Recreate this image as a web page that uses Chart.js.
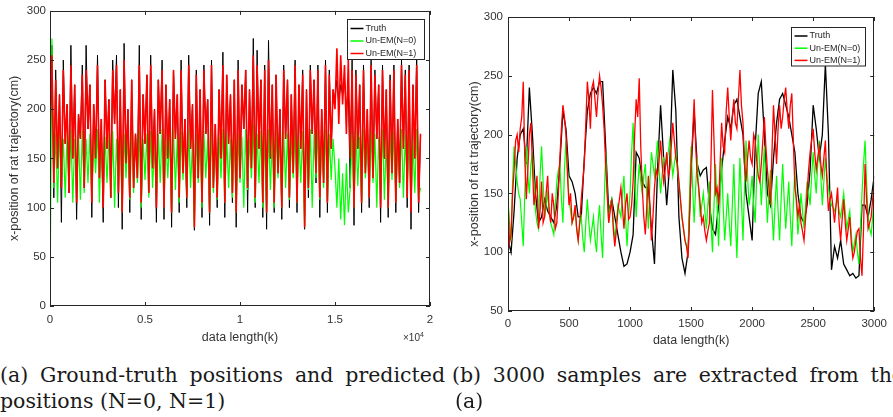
<!DOCTYPE html>
<html>
<head>
<meta charset="utf-8">
<script src="https://cdn.jsdelivr.net/npm/chart.js@4.4.0/dist/chart.umd.min.js"></script>
<style>
html, body { margin: 0; padding: 0; background: #fff; }
body { width: 893px; height: 417px; overflow: hidden; position: relative; }
canvas { position: absolute; top: 0; }
.cap { position: absolute; font-family: "DejaVu Serif", serif; font-size: 20.5px; line-height: 25px; color: #1a1a1a; white-space: nowrap; }
.just { text-align: justify; text-align-last: justify; white-space: normal; }
.exp { position: absolute; left: 403px; top: 331px; font: 10px "Liberation Sans", Arial, sans-serif; color: #333; }
.exp sup { font-size: 7px; }
</style>
</head>
<body>
<canvas id="leftChart" width="445" height="347" style="left:0"></canvas>
<canvas id="rightChart" width="443" height="350" style="left:450px"></canvas>
<div class="exp">&times;10<sup>4</sup></div>
<div class="cap just" style="left:0;top:363px;width:445px">(a) Ground-truth positions and predicted</div>
<div class="cap" style="left:0;top:389px">positions (N=0, N=1)</div>
<div class="cap just" style="left:452px;top:363px;width:452px">(b) 3000 samples are extracted from the</div>
<div class="cap" style="left:455px;top:389px">(a)</div>
<script>
// series names (legend order)
const seriesNames = ['Truth', 'Un-EM(N=0)', 'Un-EM(N=1)'];
const seriesColors = ['#000000', '#00ff00', '#ff0000'];

// (a) full recording, one value every 100 samples
const leftStep = 100;
const leftXTickLabels = ['0', '0.5', '1', '1.5', '2'];
const leftTruth = [
  150, 265, 110, 240, 140, 215, 85, 250, 165, 205,
  115, 265, 150, 225, 88, 195, 170, 245, 120, 265,
  180, 225, 90, 205, 150, 255, 130, 190, 85, 230,
  160, 210, 110, 250, 185, 255, 100, 220, 78, 267,
  145, 200, 95, 230, 120, 175, 130, 265, 88, 215,
  165, 235, 115, 255, 140, 200, 85, 230, 175, 250,
  88, 225, 150, 210, 80, 240, 170, 215, 95, 250,
  135, 190, 100, 255, 160, 205, 77, 240, 130, 220,
  90, 245, 175, 210, 82, 250, 120, 185, 100, 220,
  150, 258, 90, 235, 165, 215, 105, 230, 80, 250,
  130, 225, 180, 240, 95, 220, 140, 272, 100, 260,
  160, 230, 90, 245, 78, 270, 150, 225, 95, 235,
  135, 200, 88, 245, 170, 230, 100, 215, 135, 250,
  95, 225, 160, 240, 78, 220, 110, 245, 175, 230,
  125, 245, 90, 200, 125, 250, 95, 240, 160, 220,
  210, 230, 205, 225, 215, 230, 200, 220, 120, 250,
  82, 240, 160, 225, 95, 245, 135, 200, 100, 250,
  130, 240, 170, 225, 85, 245, 150, 220, 90, 235,
  135, 245, 95, 190, 125, 250, 160, 240, 100, 245,
  78, 225, 150, 255, 95, 175
];
const leftUnEM0 = [
  0, 272, 120, 175, 105, 180, 125, 170, 110, 175,
  120, 180, 105, 170, 130, 175, 108, 178, 115, 170,
  125, 175, 110, 172, 135, 180, 105, 175, 118, 172,
  125, 175, 110, 178, 100, 170, 120, 180, 95, 175,
  130, 172, 108, 178, 115, 175, 125, 180, 100, 170,
  128, 175, 110, 178, 120, 165, 105, 175, 125, 180,
  100, 170, 130, 175, 95, 180, 118, 172, 105, 178,
  128, 175, 110, 180, 120, 168, 80, 175, 125, 172,
  100, 178, 130, 170, 95, 180, 115, 175, 108, 172,
  130, 180, 105, 175, 120, 170, 110, 178, 95, 175,
  125, 172, 100, 180, 118, 170, 130, 185, 105, 175,
  125, 178, 100, 175, 95, 180, 118, 172, 100, 178,
  130, 170, 100, 178, 120, 175, 108, 170, 130, 180,
  105, 172, 125, 178, 80, 170, 118, 180, 100, 175,
  130, 178, 108, 172, 120, 180, 105, 175, 128, 170,
  140, 100, 150, 88, 135, 82, 145, 95, 120, 175,
  100, 178, 122, 172, 105, 180, 130, 175, 110, 178,
  125, 175, 100, 172, 118, 180, 108, 170, 100, 175,
  128, 178, 105, 172, 120, 180, 110, 175, 125, 178,
  100, 172, 115, 180, 110, 120
];
const leftUnEM1 = [
  160, 255, 125, 230, 140, 215, 120, 240, 165, 205,
  115, 245, 150, 225, 105, 195, 170, 235, 120, 240,
  180, 225, 105, 205, 150, 245, 130, 190, 100, 230,
  160, 210, 110, 240, 185, 245, 115, 220, 95, 250,
  145, 200, 110, 230, 120, 175, 130, 245, 105, 215,
  165, 235, 115, 245, 140, 200, 100, 230, 175, 240,
  100, 225, 150, 210, 95, 240, 170, 215, 110, 240,
  135, 190, 110, 245, 160, 205, 80, 235, 130, 220,
  105, 240, 175, 210, 95, 245, 120, 185, 110, 220,
  150, 245, 105, 235, 165, 215, 115, 230, 95, 240,
  130, 225, 180, 240, 120, 220, 140, 255, 110, 245,
  160, 230, 105, 240, 95, 250, 150, 225, 105, 235,
  135, 200, 100, 240, 170, 230, 110, 215, 135, 245,
  105, 225, 160, 235, 80, 220, 120, 240, 175, 230,
  135, 240, 110, 200, 125, 245, 105, 235, 160, 220,
  200, 262, 185, 255, 205, 245, 175, 250, 150, 240,
  100, 235, 160, 225, 105, 240, 135, 200, 110, 245,
  130, 235, 170, 225, 100, 240, 150, 220, 100, 230,
  135, 240, 105, 190, 125, 245, 160, 235, 110, 240,
  95, 225, 150, 245, 105, 175
];

// (b) first 3000 samples: truth every 25 samples, estimates every 12.5
const rightTruthStep = 25;
const rightEstStep = 12.5;
const rightTruth = [
  110, 100, 135, 180, 200, 205, 175, 240, 200, 150,
  125, 130, 145, 135, 130, 125, 140, 175, 220, 205,
  165, 160, 150, 130, 130, 180, 220, 235, 240, 235,
  245, 245, 190, 135, 145, 130, 115, 100, 88, 90,
  100, 115, 185, 180, 160, 155, 155, 120, 90, 170,
  225, 180, 140, 175, 255, 220, 130, 95, 82, 100,
  170, 220, 175, 165, 170, 172, 140, 120, 115, 140,
  170, 195, 215, 205, 225, 230, 215, 200, 150, 130,
  110, 190, 235, 245, 200, 150, 140, 180, 210, 230,
  235, 225, 215, 200, 185, 150, 130, 125, 140, 170,
  225, 205, 180, 200, 260, 200, 85, 105, 95, 110,
  90, 85, 80, 82, 78, 80, 140, 140, 130, 145,
  165
];
const rightUnEM0 = [
  145, 125, 110, 160, 190, 175, 160, 150, 145, 125, 105, 150, 190, 165, 150, 175, 185, 160, 135, 125,
  120, 165, 190, 160, 130, 140, 150, 135, 125, 120, 115, 140, 160, 170, 175, 145, 125, 170, 195, 170,
  145, 135, 125, 130, 135, 120, 110, 125, 130, 112, 100, 125, 145, 125, 110, 120, 130, 112, 100, 125,
  140, 115, 95, 140, 185, 150, 125, 140, 145, 125, 110, 125, 140, 135, 130, 150, 165, 130, 105, 130,
  150, 185, 210, 165, 130, 155, 175, 160, 150, 165, 175, 145, 120, 160, 185, 175, 165, 180, 195, 170,
  150, 165, 180, 178, 175, 185, 195, 180, 165, 175, 185, 170, 160, 145, 130, 120, 110, 105, 100, 150,
  190, 155, 125, 155, 180, 150, 130, 140, 150, 135, 120, 140, 160, 125, 100, 140, 175, 140, 105, 145,
  180, 140, 110, 130, 150, 125, 105, 140, 175, 130, 95, 140, 180, 145, 110, 155, 195, 165, 140, 150,
  165, 140, 125, 165, 200, 170, 140, 165, 190, 155, 125, 150, 170, 135, 110, 140, 165, 135, 110, 145,
  175, 145, 120, 140, 160, 130, 105, 140, 170, 140, 115, 130, 150, 135, 120, 140, 160, 150, 140, 165,
  185, 165, 150, 175, 195, 165, 140, 160, 180, 165, 155, 145, 140, 138, 135, 140, 145, 135, 130, 140,
  150, 135, 120, 128, 135, 115, 100, 108, 115, 100, 90, 120, 150, 175, 195, 160, 130, 120, 115, 130,
  145
];
const rightUnEM1 = [
  145, 108, 115, 150, 170, 195, 200, 185, 205, 215, 245, 180, 145, 170, 200, 210, 175, 140, 150, 165,
  120, 135, 160, 125, 130, 150, 165, 135, 125, 150, 140, 120, 125, 150, 180, 205, 225, 215, 200, 165,
  140, 150, 125, 130, 140, 120, 110, 125, 145, 160, 175, 210, 245, 230, 205, 240, 245, 230, 215, 235,
  250, 240, 225, 205, 175, 150, 125, 135, 145, 120, 105, 118, 135, 145, 155, 138, 120, 140, 150, 128,
  130, 140, 160, 200, 230, 215, 248, 190, 155, 130, 115, 140, 165, 140, 110, 130, 155, 170, 165, 178,
  195, 175, 160, 170, 185, 165, 170, 190, 210, 195, 180, 175, 160, 145, 130, 120, 110, 105, 95, 130,
  175, 200, 230, 190, 165, 155, 140, 125, 130, 118, 110, 118, 125, 175, 238, 195, 150, 155, 140, 175,
  210, 190, 185, 220, 240, 215, 195, 215, 230, 210, 205, 230, 255, 225, 210, 175, 160, 180, 195, 180,
  175, 200, 195, 178, 165, 160, 175, 195, 215, 190, 170, 155, 140, 185, 225, 200, 175, 205, 225, 205,
  215, 230, 240, 220, 205, 225, 235, 195, 155, 145, 130, 140, 125, 118, 110, 128, 150, 170, 185, 195,
  205, 185, 170, 180, 190, 175, 165, 180, 195, 160, 135, 145, 150, 138, 125, 140, 155, 125, 110, 128,
  145, 125, 110, 120, 130, 108, 95, 100, 110, 118, 120, 95, 80, 120, 175, 145, 120, 125, 130, 145,
  160
];

const font = '"Liberation Sans", Arial, Helvetica, sans-serif';
const tickColor = '#333333';

function toPoints(values, step) {
  return values.map((v, i) => ({ x: i * step, y: v }));
}

// box with inward ticks on all sides plus the legend drawn inside the axes
const matlabBox = {
  id: 'matlabBox',
  afterDatasetsDraw(chart, args, opts) {
    const { ctx, chartArea: a, scales } = chart;
    const sx = scales.x, sy = scales.y;
    ctx.save();
    ctx.strokeStyle = '#262626';
    ctx.lineWidth = 1;
    ctx.beginPath();
    sx.ticks.forEach(t => {
      const px = Math.round(sx.getPixelForValue(t.value)) + 0.5;
      ctx.moveTo(px, a.bottom); ctx.lineTo(px, a.bottom - 4);
      ctx.moveTo(px, a.top); ctx.lineTo(px, a.top + 4);
    });
    sy.ticks.forEach(t => {
      const py = Math.round(sy.getPixelForValue(t.value)) + 0.5;
      ctx.moveTo(a.left, py); ctx.lineTo(a.left + 4, py);
      ctx.moveTo(a.right, py); ctx.lineTo(a.right - 4, py);
    });
    ctx.stroke();
    ctx.strokeRect(Math.round(a.left) + 0.5, Math.round(a.top) + 0.5,
      Math.round(a.right - a.left) - 1, Math.round(a.bottom - a.top) - 1);

    const lg = opts.legend;
    const bx = Math.round(a.right - lg.right - lg.w) + 0.5;
    const by = Math.round(a.top + lg.top) + 0.5;
    ctx.fillStyle = '#ffffff';
    ctx.fillRect(bx, by, lg.w, lg.h);
    ctx.strokeStyle = '#262626';
    ctx.strokeRect(bx, by, lg.w, lg.h);
    ctx.font = '9px ' + font;
    ctx.textBaseline = 'middle';
    chart.data.datasets.forEach((ds, i) => {
      const ly = by + lg.first + i * lg.gap;
      ctx.strokeStyle = ds.borderColor;
      ctx.lineWidth = 1.5;
      ctx.beginPath();
      ctx.moveTo(bx + 3, ly); ctx.lineTo(bx + 16, ly);
      ctx.stroke();
      ctx.fillStyle = '#262626';
      ctx.fillText(ds.label, bx + 18, ly);
    });
    ctx.restore();
  }
};

// Chart.js paints the lowest "order" last, so N=1 ends up on top like the figure
function makeDatasets(series, steps, widths) {
  return series.map((vals, i) => ({
    label: seriesNames[i],
    data: toPoints(vals, steps[i]),
    borderColor: seriesColors[i],
    borderWidth: widths[i],
    order: series.length - i,
    pointRadius: 0,
    tension: 0,
    fill: false
  }));
}

function makeOptions(cfg) {
  return {
    responsive: false,
    animation: false,
    events: [],
    layout: { padding: cfg.padding },
    plugins: {
      legend: { display: false },
      tooltip: { enabled: false },
      matlabBox: { legend: cfg.legend }
    },
    scales: {
      x: {
        type: 'linear',
        min: cfg.xMin, max: cfg.xMax,
        afterFit: s => { s.height = cfg.xHeight; },
        grid: { display: false, drawTicks: false },
        border: { display: false },
        ticks: {
          stepSize: cfg.xStep, autoSkip: false, maxRotation: 0,
          padding: cfg.xTickPad, color: tickColor,
          font: { family: font, size: 11.5 },
          callback: cfg.xLabel
        },
        title: {
          display: true, text: 'data length(k)', color: tickColor,
          font: { family: font, size: 12.5 }, padding: { top: 0, bottom: 2 }
        }
      },
      y: {
        min: cfg.yMin, max: 300,
        afterFit: s => { s.width = cfg.yWidth; },
        grid: { display: false, drawTicks: false },
        border: { display: false },
        ticks: {
          stepSize: 50, autoSkip: false, padding: cfg.yTickPad, color: tickColor,
          font: { family: font, size: 11.5 }
        },
        title: {
          display: true, text: 'x-position of rat trajectory(cm)', color: tickColor,
          font: { family: font, size: 12.5 }, padding: { top: cfg.yTitlePad, bottom: 0 }
        }
      }
    }
  };
}

new Chart(document.getElementById('leftChart'), {
  type: 'line',
  data: { datasets: makeDatasets([leftTruth, leftUnEM0, leftUnEM1], [leftStep, leftStep, leftStep], [1, 1.2, 1.6]) },
  options: makeOptions({
    padding: { left: 0, right: 15, top: 8, bottom: 0 },
    xMin: 0, xMax: 20000, xStep: 5000, xHeight: 41, xTickPad: 7,
    xLabel: v => leftXTickLabels[Math.round(v / 5000)],
    yMin: 0, yWidth: 50, yTickPad: 4, yTitlePad: 7.5,
    legend: { right: 6.5, top: 8.5, w: 77, h: 40, first: 9, gap: 12.5 }
  }),
  plugins: [matlabBox]
});

new Chart(document.getElementById('rightChart'), {
  type: 'line',
  data: { datasets: makeDatasets([rightTruth, rightUnEM0, rightUnEM1], [rightTruthStep, rightEstStep, rightEstStep], [1.3, 1.2, 1.3]) },
  options: makeOptions({
    padding: { left: 0, right: 12, top: 17, bottom: 0 },
    xMin: 0, xMax: 3000, xStep: 500, xHeight: 39, xTickPad: 6,
    xLabel: v => String(v),
    yMin: 50, yWidth: 58, yTickPad: 5, yTitlePad: 17.5,
    legend: { right: 9, top: 9.8, w: 74, h: 38.5, first: 8.5, gap: 12.2 }
  }),
  plugins: [matlabBox]
});
</script>
</body>
</html>
